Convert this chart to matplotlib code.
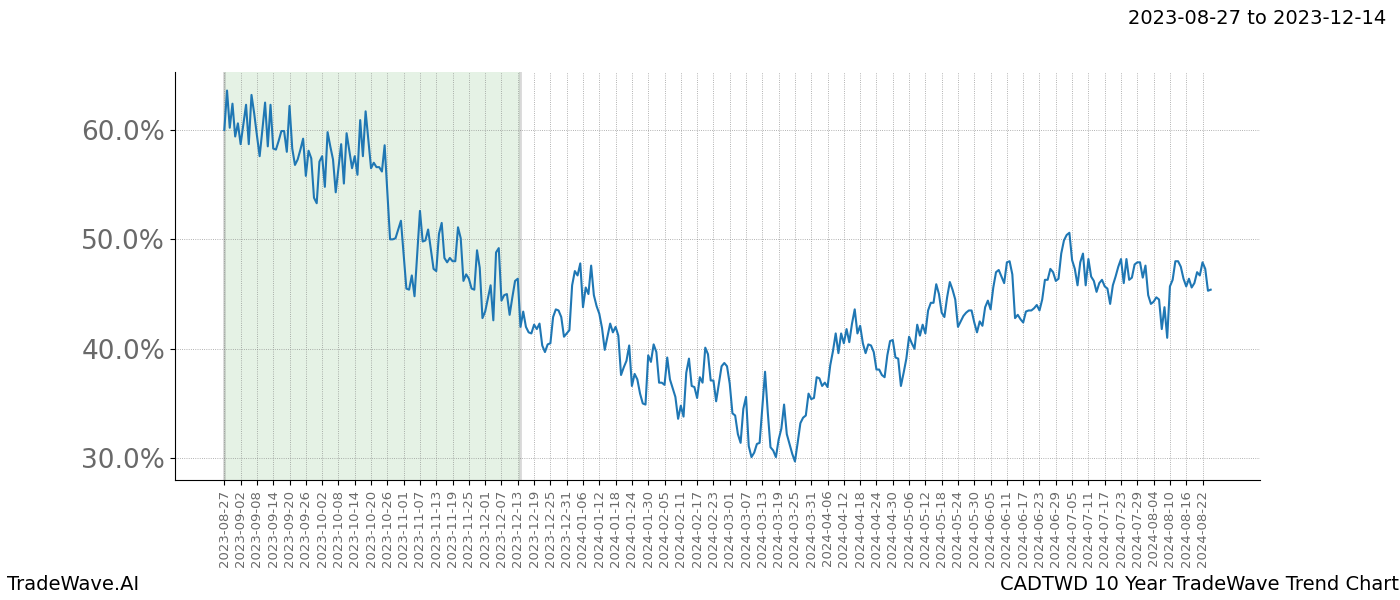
import matplotlib
matplotlib.use("Agg")
import matplotlib.pyplot as plt
import matplotlib.ticker as mticker
import pandas as pd

# ---------------- data (percent, one value per calendar day, no Feb 29) ----------------
start_date = "2023-08-27"
highlight_start = "2023-08-27"
highlight_end = "2023-12-14"

values_part1 = [60.0, 63.6, 60.2, 62.4, 59.4, 60.6, 58.7, 60.5, 62.3, 58.7,
                63.2, 61.5, 59.5, 57.6, 60.0, 62.5, 58.5, 62.3, 58.3, 58.2,
                59.0, 59.9, 59.9, 58.0, 62.2, 58.3, 56.8, 57.3, 58.2, 59.2,
                55.8, 58.1, 57.4, 53.8, 53.3]
values_part2 = [57.1, 57.6, 54.8, 59.8, 58.5, 57.3, 54.3, 56.5, 58.7, 55.1,
                59.7, 58.1, 56.5, 57.6, 55.9, 60.9, 57.6, 61.7, 59.1, 56.5,
                57.0, 56.6, 56.6, 56.2, 58.6, 54.3, 50.0, 50.0, 50.1, 50.9,
                51.7]
values_part3 = [48.6, 45.5, 45.4, 46.7, 44.8, 48.7, 52.6, 49.8, 49.9, 50.9,
                49.1, 47.3, 47.1, 50.5, 51.5, 48.3, 47.9, 48.3, 48.0, 48.0,
                51.1, 50.1, 46.2, 46.8, 46.4, 45.5, 45.4, 49.0, 47.4, 42.8]
values_part4 = [43.4, 44.6, 45.8, 42.6, 48.8, 49.2, 44.4, 44.9, 45.0, 43.1,
                44.7, 46.2, 46.4, 42.0, 43.4, 42.0, 41.5, 41.4, 42.2, 41.8,
                42.3, 40.3, 39.7, 40.4, 40.5, 42.9, 43.6, 43.5, 42.9, 41.1,
                41.4]
values_part5 = [41.7, 45.8, 47.1, 46.7, 47.8, 43.8, 45.6, 45.0, 47.6, 44.9,
                43.9, 43.2, 41.9, 39.9, 41.1, 42.3, 41.5, 42.0, 41.2, 37.6,
                38.3, 38.9, 40.3, 36.6, 37.7, 37.2, 35.9, 35.0, 34.9, 39.4,
                38.8]
values_part6 = [40.4, 39.7, 36.9, 36.9, 36.7, 39.2, 37.2, 36.4, 35.6, 33.6,
                34.8, 33.8, 37.8, 39.1, 36.6, 36.5, 35.5, 37.4, 36.9, 40.1,
                39.5, 37.1, 37.1, 35.2, 36.8, 38.4, 38.7, 38.4, 36.8]
values_part7 = [34.1, 33.9, 32.2, 31.4, 34.5, 35.6, 31.1, 30.1, 30.5, 31.3,
                31.4, 34.6, 37.9, 34.2, 31.0, 30.7, 30.1, 31.7, 32.7, 34.9,
                32.2, 31.3, 30.4, 29.7, 31.4, 33.2, 33.7, 33.9, 35.9, 35.4,
                35.5]
values_part8 = [37.4, 37.3, 36.6, 36.9, 36.5, 38.5, 39.8, 41.4, 39.6,
                41.4, 40.5, 41.8, 40.6, 42.3, 43.6, 41.4, 42.1, 40.5, 39.6,
                40.4, 40.3, 39.7, 38.1, 38.1, 37.6, 37.4, 39.4, 40.7, 40.8]
values_part9 = [39.2, 39.1, 36.6, 37.8, 39.1, 41.1, 40.5, 40.0, 42.2, 41.2,
                42.2, 41.4, 43.5, 44.2, 44.2, 45.9, 45.0, 43.3, 42.9, 44.7,
                46.1, 45.4, 44.5, 42.0, 42.5, 43.0, 43.3, 43.5, 43.5, 42.4,
                41.5]
values_part10 = [42.5, 42.1, 43.8, 44.4, 43.6, 45.6, 47.0, 47.2, 46.6, 46.0,
                 47.9, 48.0, 46.8, 42.8, 43.1, 42.7, 42.4, 43.4, 43.5, 43.5,
                 43.7, 44.0, 43.5, 44.5, 46.3, 46.3, 47.3, 47.0, 46.2, 46.4]
values_part11 = [48.7, 49.9, 50.4, 50.6, 48.1, 47.3, 45.8, 47.9, 48.7, 45.8,
                 48.2, 46.6, 46.2, 45.2, 46.0, 46.3, 45.7, 45.5, 44.1, 45.8,
                 46.6, 47.5, 48.2, 46.0, 48.2, 46.3, 46.5, 47.7, 47.9, 47.9,
                 46.5]
values_part12 = [47.6, 44.9, 44.1, 44.3, 44.7, 44.5, 41.8, 43.8, 41.0, 45.7,
                 46.3, 48.0, 48.0, 47.5, 46.4, 45.7, 46.4, 45.6, 46.0, 47.0,
                 46.7, 47.9, 47.3, 45.3, 45.4]

values = (values_part1 + values_part2 + values_part3 + values_part4 +
          values_part5 + values_part6 + values_part7 + values_part8 +
          values_part9 + values_part10 + values_part11 + values_part12)

all_days = pd.date_range(start_date, periods=len(values) + 5, freq="D")
all_days = all_days[~((all_days.month == 2) & (all_days.day == 29))]
date_labels = [d.strftime("%Y-%m-%d") for d in all_days[:len(values)]]

tick_step = 6
title_text = "2023-08-27 to 2023-12-14"
left_text = "TradeWave.AI"
right_text = "CADTWD 10 Year TradeWave Trend Chart"

# ---------------- plot ----------------
fig = plt.figure(figsize=(14, 6), dpi=100)
ax = fig.add_axes([0.125, 0.2, 0.775, 0.68])

x = list(range(len(values)))
hs = date_labels.index(highlight_start)
he = date_labels.index(highlight_end)
ax.axvspan(hs, he, facecolor="green", alpha=0.1, zorder=0)
ax.axvline(hs, color="gray", alpha=0.3, lw=2, zorder=0)
ax.axvline(he, color="gray", alpha=0.3, lw=2, zorder=0)

ax.plot(x, values, color="#1f77b4", lw=1.5, zorder=3)

tick_pos = x[::tick_step]
ax.set_xticks(tick_pos)
ax.set_xticklabels([date_labels[i] for i in tick_pos], rotation=90,
                   fontsize=9.5, color="dimgray")
ax.yaxis.set_major_locator(mticker.MultipleLocator(10))
ax.yaxis.set_major_formatter(mticker.FuncFormatter(lambda v, p: f"{v:.1f}%"))
ax.tick_params(axis="y", labelsize=19, labelcolor="dimgray")

ax.grid(True, color="gray", linestyle=":", linewidth=0.6, alpha=0.8)
ax.spines["top"].set_visible(False)
ax.spines["right"].set_visible(False)

fig.text(0.99, 0.985, title_text, ha="right", va="top", fontsize=14)
fig.text(0.005, 0.01, left_text, ha="left", va="bottom", fontsize=14)
fig.text(0.999, 0.01, right_text, ha="right", va="bottom", fontsize=14)

fig.savefig("out.png", dpi=100)
